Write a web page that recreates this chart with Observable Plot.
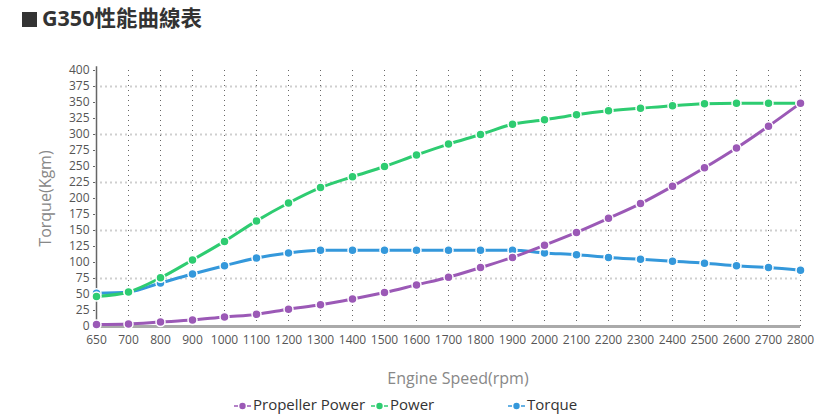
<!DOCTYPE html>
<html>
<head>
<meta charset="utf-8">
<script src="https://cdn.jsdelivr.net/npm/d3@7"></script>
<script src="https://cdn.jsdelivr.net/npm/@observablehq/plot@0.6"></script>
<style>
  body { margin: 0; background: #fff; width: 837px; height: 416px; overflow: hidden; position: relative; font-family: "Open Sans", "Noto Sans", sans-serif; }
  #title { position: absolute; left: 22px; top: 3px; font-family: "Noto Sans", "Noto Sans CJK TC", sans-serif; font-weight: bold; font-size: 21.5px; color: #333; line-height: 30px; }
  #title .sq { display: inline-block; width: 15px; height: 15px; background: #333; margin-right: 5px; vertical-align: -1px; }
  #chart { position: absolute; left: 0; top: 45px; }
  #legend { position: absolute; top: 392px; left: 234px; font-size: 15px; color: #333; line-height: 24px; white-space: nowrap; }
  #legend .item { display: inline-block; width: 137px; }
  #legend svg { vertical-align: -1px; margin-right: 2px; }
</style>
</head>
<body>
<div id="title"><span class="sq"></span>G350性能曲線表</div>
<div id="chart"></div>
<div id="legend"></div>
<script>
const rpm = [650, 700, 800, 900, 1000, 1100, 1200, 1300, 1400, 1500, 1600, 1700, 1800, 1900, 2000, 2100, 2200, 2300, 2400, 2500, 2600, 2700, 2800];
const propellerPower = [3, 4, 7, 10, 15, 19, 27, 34, 43, 53, 65, 77, 92, 108, 127, 147, 169, 192, 219, 248, 279, 313, 349];
const power = [47, 54, 76, 104, 133, 165, 193, 217, 234, 250, 268, 285, 300, 316, 323, 331, 337, 341, 345, 348, 349, 349, 349];
const torque = [52, 54, 68, 82, 95, 107, 115, 119, 119, 119, 119, 119, 119, 119, 115, 112, 108, 105, 102, 99, 95, 92, 88];
const yTicks = d3.range(0, 401, 25);
const yGrid = [75, 150, 225, 300, 375];
const seriesNames = ["Propeller Power", "Power", "Torque"];
const seriesColors = ["#9b59b6", "#2ecc71", "#3498db"];
const drawOrder = ["Torque", "Power", "Propeller Power"];

const valuesByName = {"Propeller Power": propellerPower, "Power": power, "Torque": torque};
const rows = drawOrder.flatMap(name => rpm.map((r, i) => ({rpm: String(r), value: valuesByName[name][i], series: name})));
const cats = rpm.map(String);

const plot = Plot.plot({
  width: 837,
  height: 345,
  marginLeft: 95,
  marginRight: 37,
  marginTop: 25,
  marginBottom: 64,
  style: {fontFamily: "'Open Sans', 'Noto Sans', sans-serif", fontSize: "12px", color: "#555", background: "transparent"},
  x: {type: "point", domain: cats, padding: 0},
  y: {domain: [0, 400]},
  color: {domain: seriesNames, range: seriesColors},
  marks: [
    Plot.ruleY(yGrid, {stroke: "#cfcfcf", strokeWidth: 2, strokeDasharray: "2,3"}),
    Plot.ruleX(cats, {y1: 0, y2: 406, stroke: "#666", strokeWidth: 1, strokeDasharray: "1,4"}),
    Plot.ruleX([cats[0]], {y1: 0, y2: 406, stroke: "#666", strokeWidth: 1.5}),
    Plot.ruleY([0], {stroke: "#aaa", strokeWidth: 3}),
    Plot.axisY({ticks: yTicks, tickSize: 2, tickPadding: 4, label: "Torque(Kgm)", labelAnchor: "center", labelOffset: 56, labelArrow: "none", fontSize: 12, stroke: "#666"}),
    Plot.axisX({tickSize: 0, tickPadding: 9, label: "Engine Speed(rpm)", labelAnchor: "center", labelOffset: 57, labelArrow: "none", fontSize: 12}),
    Plot.line(rows, {x: "rpm", y: "value", z: "series", stroke: "series", strokeWidth: 3, curve: "monotone-x"}),
    Plot.dot(rows, {x: "rpm", y: "value", fill: "series", stroke: "#fff", strokeWidth: 1.5, r: 4.5})
  ]
});
plot.querySelectorAll("[aria-label='y-axis label'], [aria-label='x-axis label']").forEach(g => {
  g.setAttribute("font-size", "16");
  g.setAttribute("fill", "#888");
});
const xl = plot.querySelector("[aria-label='x-axis label']");
if (xl) {
  const t = xl.getAttribute("transform") || "";
  xl.setAttribute("transform", "translate(10,0) " + t);
}
document.getElementById("chart").appendChild(plot);

const legend = document.getElementById("legend");
seriesNames.forEach((name, i) => {
  const c = seriesColors[i];
  const item = document.createElement("span");
  item.className = "item";
  item.innerHTML = `<svg width="17" height="10"><line x1="0" y1="5" x2="4" y2="5" stroke="${c}" stroke-width="1.5"/><line x1="13" y1="5" x2="17" y2="5" stroke="${c}" stroke-width="1.5"/><circle cx="8.5" cy="5" r="3.2" fill="${c}"/></svg>${name}`;
  legend.appendChild(item);
});
</script>
</body>
</html>
